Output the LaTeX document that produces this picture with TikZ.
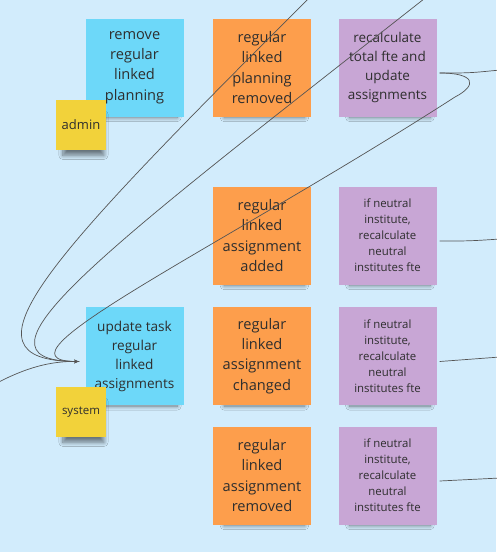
\documentclass[tikz,border=0pt]{standalone}
\usepackage{fontspec}
\setmainfont{Open Sans}
\usetikzlibrary{shapes,arrows,positioning,calc,shadows.blur}
\definecolor{boardbg}{HTML}{D2ECFC}
\definecolor{cmdblue}{HTML}{6DD8F9}
\definecolor{evtorange}{HTML}{FD9E4C}
\definecolor{polpurple}{HTML}{C8A6D5}
\definecolor{actyellow}{HTML}{F2D23A}
\definecolor{inkgray}{HTML}{2E2E2E}
\definecolor{wiregray}{HTML}{555555}
\tikzset{
note/.style = {rectangle, minimum height=98pt, minimum width=98pt, inner sep=2pt, align=center, text=inkgray,
  blur shadow={shadow xshift=3pt, shadow yshift=-12pt, shadow scale=0.82, shadow opacity=50, shadow blur radius=5pt, shadow blur steps=10}},
command/.style = {note, fill=cmdblue},
event/.style = {note, fill=evtorange, font=\fontsize{14.6}{20.3}\selectfont},
policy/.style = {note, fill=polpurple},
neutral/.style = {font=\fontsize{11.4}{16}\selectfont},
actor/.style = {note, fill=actyellow, minimum height=50pt, minimum width=50pt},
wire/.style = {draw=wiregray, line width=0.7pt},
exit/.style = {coordinate}
}
\begin{document}
\begin{tikzpicture}[x=1pt, y=-1pt, auto, >=latex']
  \fill[boardbg] (0,0) rectangle (496,552);
  \useasboundingbox (0,0) rectangle (496,552);
  % commands, events and policies
  \node[command, font=\fontsize{14.6}{20.3}\selectfont] (rmplan) at (134.5,67.5) {remove\\regular\\linked\\planning};
  \node[event, right of=rmplan, node distance=127.5pt] (plremoved) {regular\\linked\\planning\\removed};
  \node[policy, right of=plremoved, node distance=125.5pt, font=\fontsize{13.5}{18.7}\selectfont] (recalc) {recalculate\\total fte and\\update\\assignments};
  \node[event, below of=plremoved, node distance=168pt] (asadded) {regular\\linked\\assignment\\added};
  \node[policy, neutral, right of=asadded, node distance=125.5pt] (neutral1) {if neutral\\institute,\\recalculate\\neutral\\institutes fte};
  \node[event, below of=asadded, node distance=120.5pt] (aschanged) {regular\\linked\\assignment\\changed};
  \node[policy, neutral, right of=aschanged, node distance=125.5pt] (neutral2) {if neutral\\institute,\\recalculate\\neutral\\institutes fte};
  \node[event, below of=aschanged, node distance=119.5pt] (asremoved) {regular\\linked\\assignment\\removed};
  \node[policy, neutral, right of=asremoved, node distance=125.5pt] (neutral3) {if neutral\\institute,\\recalculate\\neutral\\institutes fte};
  \node[command, left of=aschanged, node distance=127.5pt, font=\fontsize{13.6}{19}\selectfont] (updtask) {update task\\regular\\linked\\assignments};
  % actors
  \node[actor, font=\fontsize{13}{16}\selectfont] (admin) at (81,125) {admin};
  \node[actor, font=\fontsize{11.5}{14}\selectfont] (system) at (81,412) {system};
  % connector ends
  \coordinate (intask) at ($(updtask.west)+(-6,5.5)$);
  \coordinate (rcout) at ($(recalc.east)+(3,5.5)$);
  \coordinate (n1out) at ($(neutral1.east)+(3,5.5)$);
  \coordinate (n2out) at ($(neutral2.east)+(3,5.5)$);
  \coordinate (n3out) at ($(neutral3.east)+(3,5.5)$);
  \node[exit] (topA) at (312,-5) {};
  \node[exit] (topB) at (429,-5) {};
  \node[exit] (leftin) at (-5,384) {};
  \node[exit] (out0) at (500,70) {};
  \node[exit] (out1) at (500,239) {};
  \node[exit] (out2) at (500,357) {};
  \node[exit] (out3) at (500,478) {};
  % into update task
  \draw[wire,->] (topA) .. controls (47,260) and (-50,361) .. (intask);
  \draw[wire,->] (topB) .. controls (105,250) and (-45,361) .. (intask);
  \draw[wire,->] (rcout) .. controls (475,73) and (478,85) .. (455,97) .. controls (222,247) and (-20,361) .. (intask);
  \draw[wire,->] (leftin) .. controls (25,368) and (50,361) .. (intask);
  % out to the right
  \draw[wire] (rcout) .. controls (470,73) .. (out0);
  \draw[wire] (n1out) .. controls (470,241) .. (out1);
  \draw[wire] (n2out) .. controls (470,360) .. (out2);
  \draw[wire] (n3out) .. controls (470,480) .. (out3);
\end{tikzpicture}
\end{document}
